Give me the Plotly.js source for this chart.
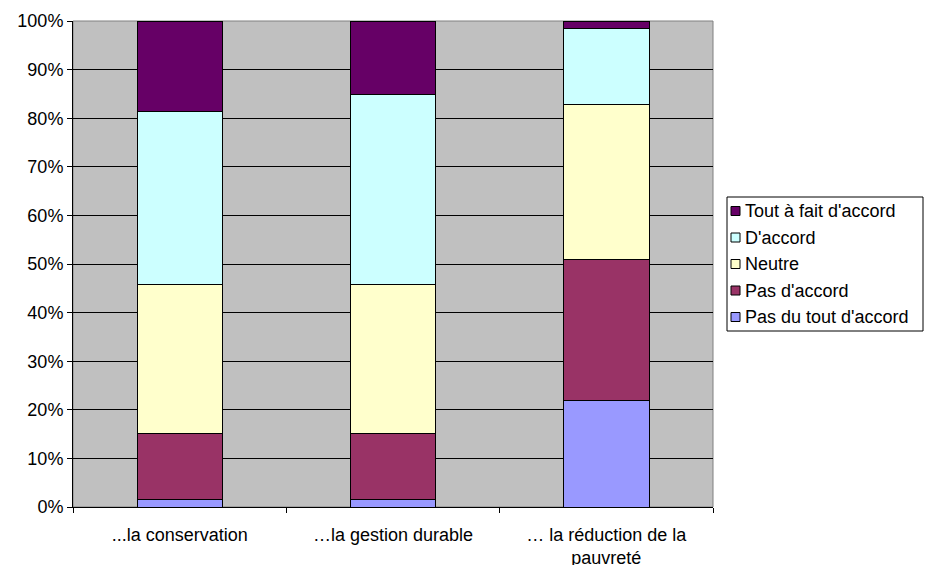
<!DOCTYPE html>
<html>
<head>
<meta charset="utf-8">
<script src="https://cdn.plot.ly/plotly-3.0.1.min.js"></script>
<style>html,body{margin:0;padding:0;background:#fff;}#chart{width:926px;height:565px;}</style>
</head>
<body>
<div id="chart"></div>
<script>
const categories = ["...la conservation", "…la gestion durable", "… la réduction de la<br>pauvreté"];
const seriesNames = ["Pas du tout d'accord", "Pas d'accord", "Neutre", "D'accord", "Tout à fait d'accord"];
const pasDuTout = [1.6, 1.6, 21.9];
const pasDAccord = [13.5, 13.5, 29.0];
const neutre = [30.7, 30.7, 32.0];
const dAccord = [35.5, 39.0, 15.5];
const toutAFait = [18.7, 15.2, 1.6];
const colors = ["#9999FF", "#993366", "#FFFFCC", "#CCFFFF", "#660066"];
const yTicks = [0, 10, 20, 30, 40, 50, 60, 70, 80, 90, 100];

const values = [pasDuTout, pasDAccord, neutre, dAccord, toutAFait];
const data = values.map((v, i) => ({
  type: 'bar',
  name: seriesNames[i],
  x: categories,
  y: v,
  marker: {color: colors[i], line: {color: '#000000', width: 1}},
  hoverinfo: 'skip',
  showlegend: false
}));

// plot area in pixels
const L = 73, R = 713, T = 21, B = 507;
const px = x => (x - L) / (R - L);
const py = y => (B - y) / (B - T);

const shapes = [{
  type: 'rect', xref: 'paper', yref: 'paper', x0: 0, x1: 1, y0: 0, y1: 1,
  line: {color: '#808080', width: 1}, layer: 'below'
}, {
  type: 'rect', xref: 'paper', yref: 'paper',
  x0: px(727), x1: px(923), y0: py(331), y1: py(197),
  line: {color: '#000000', width: 1}, fillcolor: '#FFFFFF'
}];
const annotations = [];
const itemY = [211, 237.5, 264, 290.5, 317];
for (let k = 0; k < 5; k++) {
  const i = 4 - k;
  const yc = itemY[k];
  shapes.push({
    type: 'rect', xref: 'paper', yref: 'paper',
    x0: px(731), x1: px(740), y0: py(yc + 4.5), y1: py(yc - 4.5),
    line: {color: '#000000', width: 1}, fillcolor: colors[i]
  });
  annotations.push({
    xref: 'paper', yref: 'paper', x: px(743), y: py(yc),
    xanchor: 'left', yanchor: 'middle', showarrow: false,
    text: seriesNames[i], font: {size: 18, color: '#000000'}
  });
}

const layout = {
  width: 926, height: 565,
  margin: {l: L, r: 926 - R, t: T, b: 565 - B, pad: 0},
  barmode: 'stack',
  bargap: 0.6,
  paper_bgcolor: '#FFFFFF',
  plot_bgcolor: '#C0C0C0',
  font: {family: 'Liberation Sans, Arial, sans-serif', size: 18, color: '#000000'},
  showlegend: false,
  xaxis: {
    type: 'category',
    showline: true, linecolor: '#000000', linewidth: 1,
    ticks: 'outside', tickson: 'boundaries', ticklen: 5, tickcolor: '#000000',
    ticklabelstandoff: 11,
    showgrid: false, tickfont: {size: 18}, fixedrange: true
  },
  yaxis: {
    range: [0, 100],
    tickvals: yTicks, ticktext: yTicks.map(t => t + '%'),
    showline: true, linecolor: '#000000', linewidth: 1,
    ticks: 'outside', ticklen: 5, tickcolor: '#000000',
    showgrid: true, gridcolor: '#000000', gridwidth: 1,
    zeroline: false, tickfont: {size: 18}, fixedrange: true
  },
  shapes: shapes,
  annotations: annotations
};

Plotly.newPlot('chart', data, layout, {displayModeBar: false, staticPlot: true});
</script>
</body>
</html>
